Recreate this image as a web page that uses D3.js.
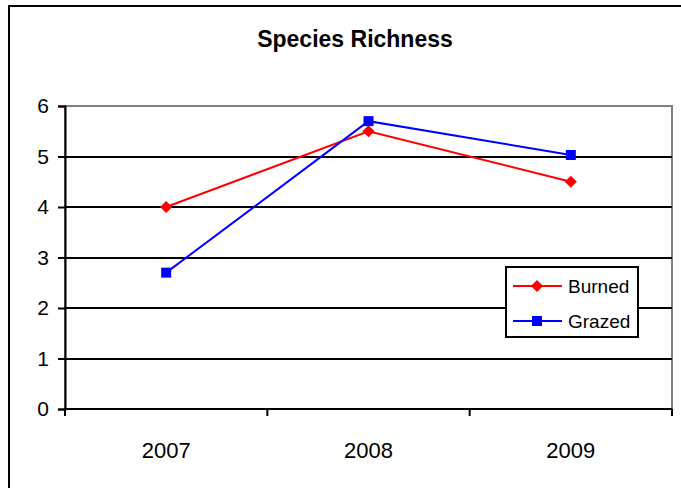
<!DOCTYPE html>
<html>
<head>
<meta charset="utf-8">
<script src="https://cdn.jsdelivr.net/npm/d3@7"></script>
<style>
  html, body { margin: 0; padding: 0; background: #fff; }
  svg { display: block; font-family: "Liberation Sans", Arial, sans-serif; }
</style>
</head>
<body>
<svg id="chart" width="681" height="488"></svg>
<script>
// Chart data
const years = ["2007", "2008", "2009"];
const burned = [4.0, 5.5, 4.5];
const grazed = [2.7, 5.7, 5.03];
const yTicks = [0, 1, 2, 3, 4, 5, 6];
const seriesNames = ["Burned", "Grazed"];
const seriesColors = ["#ff0000", "#0000ff"];

const svg = d3.select("#chart");
const plot = { left: 65, right: 672, top: 106, bottom: 409 };

// Outer frame (continues past the right and bottom edges)
svg.append("rect")
  .attr("x", 9).attr("y", 6)
  .attr("width", 700).attr("height", 500)
  .attr("fill", "none").attr("stroke", "#000").attr("stroke-width", 2);

// Title
svg.append("text")
  .attr("x", 355).attr("y", 47)
  .attr("text-anchor", "middle")
  .attr("font-weight", "bold")
  .attr("font-size", 23)
  .text("Species Richness");

const x = d3.scaleBand().domain(years).range([plot.left, plot.right]);
const y = d3.scaleLinear().domain([0, 6]).range([plot.bottom, plot.top]);

// Plot area border
svg.append("rect")
  .attr("x", plot.left).attr("y", plot.top)
  .attr("width", plot.right - plot.left).attr("height", plot.bottom - plot.top)
  .attr("fill", "none").attr("stroke", "#808080").attr("stroke-width", 2);

// Horizontal gridlines
svg.append("g").selectAll("line")
  .data(yTicks.filter(t => t > 0 && t < 6))
  .join("line")
  .attr("x1", plot.left).attr("x2", plot.right)
  .attr("y1", d => Math.round(y(d))).attr("y2", d => Math.round(y(d)))
  .attr("stroke", "#000").attr("stroke-width", 2);

// Y axis
const yAxis = svg.append("g")
  .attr("transform", `translate(${plot.left},0)`)
  .call(d3.axisLeft(y).tickValues(yTicks).tickFormat(d3.format("d")).tickSize(7).tickPadding(9));
yAxis.select(".domain").attr("stroke", "#000").attr("stroke-width", 2);
yAxis.selectAll(".tick line").attr("stroke", "#000").attr("stroke-width", 2);
yAxis.selectAll(".tick text").attr("font-size", 21).attr("fill", "#000")
  .attr("font-family", "Liberation Sans, Arial, sans-serif");

// X axis with ticks between categories
const xAxisG = svg.append("g").attr("transform", `translate(0,${plot.bottom})`);
xAxisG.append("line")
  .attr("x1", plot.left).attr("x2", plot.right)
  .attr("stroke", "#000").attr("stroke-width", 2);
const bounds = years.map(d => x(d)).concat([x(years[years.length - 1]) + x.bandwidth()]);
xAxisG.selectAll("line.tick")
  .data(bounds)
  .join("line").attr("class", "tick")
  .attr("x1", d => d).attr("x2", d => d)
  .attr("y1", 0).attr("y2", 7)
  .attr("stroke", "#000").attr("stroke-width", 2);
xAxisG.selectAll("text")
  .data(years)
  .join("text")
  .attr("x", d => x(d) + x.bandwidth() / 2)
  .attr("y", 49)
  .attr("text-anchor", "middle")
  .attr("font-size", 22)
  .text(d => d);

// Series lines and markers
const cx = d => x(d) + x.bandwidth() / 2;
const line = d3.line().x((v, i) => cx(years[i])).y(v => y(v));
const seriesData = [burned, grazed];

function marker(g, kind, px, py, color) {
  if (kind === 0) {
    // square diamond, 12px across
    g.append("rect")
      .attr("x", -4.3).attr("y", -4.3).attr("width", 8.6).attr("height", 8.6)
      .attr("transform", `translate(${px},${py}) rotate(45)`)
      .attr("fill", color);
  } else {
    g.append("rect")
      .attr("x", px - 5).attr("y", py - 5).attr("width", 10).attr("height", 10)
      .attr("fill", color);
  }
}

seriesData.forEach((vals, si) => {
  const g = svg.append("g");
  g.append("path")
    .attr("d", line(vals))
    .attr("fill", "none")
    .attr("stroke", seriesColors[si])
    .attr("stroke-width", 2);
  vals.forEach((v, i) => marker(g, si, cx(years[i]), y(v), seriesColors[si]));
});

// Legend
const lg = svg.append("g");
lg.append("rect")
  .attr("x", 506).attr("y", 267).attr("width", 132).attr("height", 70)
  .attr("fill", "#fff").attr("stroke", "#000").attr("stroke-width", 2);
seriesNames.forEach((name, i) => {
  const ry = 286 + i * 35;
  lg.append("line")
    .attr("x1", 513).attr("x2", 562).attr("y1", ry).attr("y2", ry)
    .attr("stroke", seriesColors[i]).attr("stroke-width", 2);
  marker(lg, i, 537, ry, seriesColors[i]);
  lg.append("text")
    .attr("x", 568).attr("y", ry + 7)
    .attr("font-size", 19)
    .text(name);
});
</script>
</body>
</html>
